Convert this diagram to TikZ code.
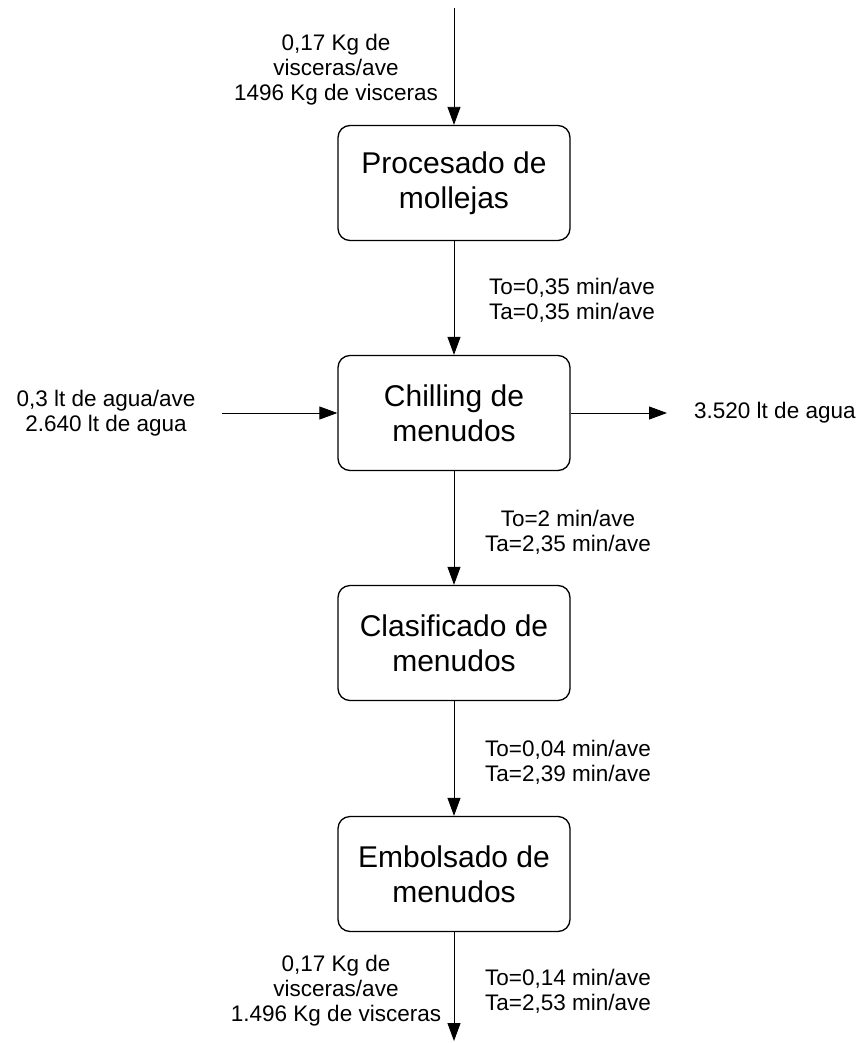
\documentclass[tikz,border=0pt]{standalone}
\usepackage{fontspec}
\setmainfont{Liberation Sans}
\usetikzlibrary{arrows.meta}
\begin{document}
\begin{tikzpicture}[x=1pt,y=-1pt,
  proc/.style={draw,line width=1.3pt,rounded corners=12pt,minimum width=232pt,minimum height=115pt,align=center,inner sep=0pt,font=\fontsize{30}{35}\selectfont},
  lab/.style={align=center,inner sep=0pt,font=\fontsize{22.5}{25}\selectfont},
  flow/.style={line width=0.9pt,-{Triangle[width=13pt,length=18pt]}}]
\useasboundingbox (0,0) rectangle (864,1043);
\node[proc] (p1) at (454,183) {Procesado de\\mollejas};
\node[proc] (p2) at (454,413) {Chilling de\\menudos};
\node[proc] (p3) at (454,643) {Clasificado de\\menudos};
\node[proc] (p4) at (454,874) {Embolsado de\\menudos};
\coordinate (top) at (454,8);
\coordinate (bot) at (454,1041);
\coordinate (inl) at (222,413);
\coordinate (outr) at (667,413);
\draw[flow] (top) -- (p1);
\draw[flow] (p1) -- (p2);
\draw[flow] (p2) -- (p3);
\draw[flow] (p3) -- (p4);
\draw[flow] (p4) -- (bot);
\draw[flow] (inl) -- (p2);
\draw[flow] (p2) -- (outr);
\node[lab] (l1) at (336,70) {0,17 Kg de\\visceras/ave\\1496 Kg de visceras};
\node[lab] (t1) at (572,300) {To=0,35 min/ave\\Ta=0,35 min/ave};
\node[lab] (l2) at (106,413) {0,3 lt de agua/ave\\2.640 lt de agua};
\node[lab,anchor=west] (l3) at (694,413) {3.520 lt de agua};
\node[lab] (t2) at (568,532) {To=2 min/ave\\Ta=2,35 min/ave};
\node[lab] (t3) at (568,762) {To=0,04 min/ave\\Ta=2,39 min/ave};
\node[lab] (l4) at (336,991) {0,17 Kg de\\visceras/ave\\1.496 Kg de visceras};
\node[lab] (t4) at (568,991) {To=0,14 min/ave\\Ta=2,53 min/ave};
\end{tikzpicture}
\end{document}
